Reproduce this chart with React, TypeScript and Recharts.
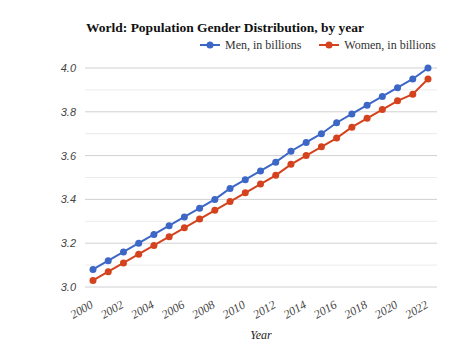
import React from 'react';
import { LineChart, Line, XAxis, YAxis, CartesianGrid, Legend } from 'recharts';

const years = [
  '2000', '2001', '2002', '2003', '2004', '2005', '2006', '2007', '2008', '2009', '2010', '2011',
  '2012', '2013', '2014', '2015', '2016', '2017', '2018', '2019', '2020', '2021', '2022',
];
const men = [
  3.08, 3.12, 3.16, 3.2, 3.24, 3.28, 3.32, 3.36, 3.4, 3.45, 3.49, 3.53,
  3.57, 3.62, 3.66, 3.7, 3.75, 3.79, 3.83, 3.87, 3.91, 3.95, 4.0,
];
const women = [
  3.03, 3.07, 3.11, 3.15, 3.19, 3.23, 3.27, 3.31, 3.35, 3.39, 3.43, 3.47,
  3.51, 3.56, 3.6, 3.64, 3.68, 3.73, 3.77, 3.81, 3.85, 3.88, 3.95,
];
const yTicks = [3.0, 3.1, 3.2, 3.3, 3.4, 3.5, 3.6, 3.7, 3.8, 3.9, 4.0];

const MEN_COLOR = '#3d67c7';
const WOMEN_COLOR = '#d4421e';
const SERIF = '"Liberation Serif", "DejaVu Serif", serif';

const data = years.map((year, i) => ({ year, men: men[i], women: women[i] }));

const YearTick = (props: any) => {
  const { x, y, payload } = props;
  const ax = x + 1;
  const ay = y + 12;
  return (
    <text
      x={ax}
      y={ay}
      transform={`rotate(-30, ${ax}, ${ay})`}
      textAnchor="end"
      fontFamily={SERIF}
      fontStyle="italic"
      fontSize={12}
      fill="#444"
    >
      {payload.value}
    </text>
  );
};

const GridLine = (props: any) => {
  const { x1, y1, x2, y2, index } = props;
  const major = index % 2 === 0;
  return (
    <line
      x1={x1}
      y1={y1}
      x2={x2}
      y2={y2}
      stroke={major ? '#d0d0d0' : '#ebebeb'}
      strokeWidth={1}
    />
  );
};

const LegendIcon = ({ color }: { color: string }) => (
  <svg width={20} height={8} style={{ display: 'block' }}>
    <line x1={0} y1={4} x2={20} y2={4} stroke={color} strokeWidth={2} />
    <circle cx={10} cy={4} r={3.5} fill={color} />
  </svg>
);

const renderLegend = () => (
  <div style={{ display: 'flex', alignItems: 'center', height: 18, fontFamily: SERIF, fontSize: 12, color: '#333' }}>
    <LegendIcon color={MEN_COLOR} />
    <span style={{ marginLeft: 5 }}>Men, in billions</span>
    <span style={{ width: 18 }} />
    <LegendIcon color={WOMEN_COLOR} />
    <span style={{ marginLeft: 5 }}>Women, in billions</span>
  </div>
);

export default function App() {
  return (
    <div style={{ position: 'absolute', left: 0, top: 0, width: 474, height: 355, background: '#fff' }}>
      <div
        style={{
          position: 'absolute',
          left: 86,
          top: 20,
          fontFamily: SERIF,
          fontWeight: 'bold',
          fontSize: 13.5,
          color: '#111',
          whiteSpace: 'nowrap',
          lineHeight: '15px',
        }}
      >
        World: Population Gender Distribution, by year
      </div>
      <LineChart width={474} height={355} data={data} margin={{ top: 50, right: 37, bottom: 16, left: 0 }}>
        <CartesianGrid vertical={false} horizontal={GridLine} />
        <XAxis
          dataKey="year"
          interval={1}
          padding={{ left: 8, right: 9 }}
          axisLine={false}
          tickLine={false}
          height={52}
          tick={YearTick}
          label={{
            value: 'Year',
            position: 'insideBottom',
            offset: 0,
            fontFamily: SERIF,
            fontStyle: 'italic',
            fontSize: 12,
            fill: '#222',
          }}
        />
        <YAxis
          domain={[3, 4]}
          ticks={yTicks}
          width={85}
          axisLine={false}
          tickLine={false}
          tickSize={0}
          tickMargin={9}
          tickFormatter={(v: number) => (Math.round(v * 10) % 2 === 0 ? v.toFixed(1) : '')}
          tick={{ fontFamily: '"Liberation Sans", Arial, sans-serif', fontStyle: 'italic', fontSize: 11, fill: '#444' }}
        />
        <Legend
          verticalAlign="top"
          align="left"
          content={renderLegend}
          wrapperStyle={{ top: 36, left: 200, width: 260 }}
        />
        <Line
          dataKey="men"
          name="Men, in billions"
          stroke={MEN_COLOR}
          strokeWidth={2}
          dot={{ r: 3.5, fill: MEN_COLOR, stroke: MEN_COLOR, strokeWidth: 0 }}
          isAnimationActive={false}
        />
        <Line
          dataKey="women"
          name="Women, in billions"
          stroke={WOMEN_COLOR}
          strokeWidth={2}
          dot={{ r: 3.5, fill: WOMEN_COLOR, stroke: WOMEN_COLOR, strokeWidth: 0 }}
          isAnimationActive={false}
        />
      </LineChart>
    </div>
  );
}
